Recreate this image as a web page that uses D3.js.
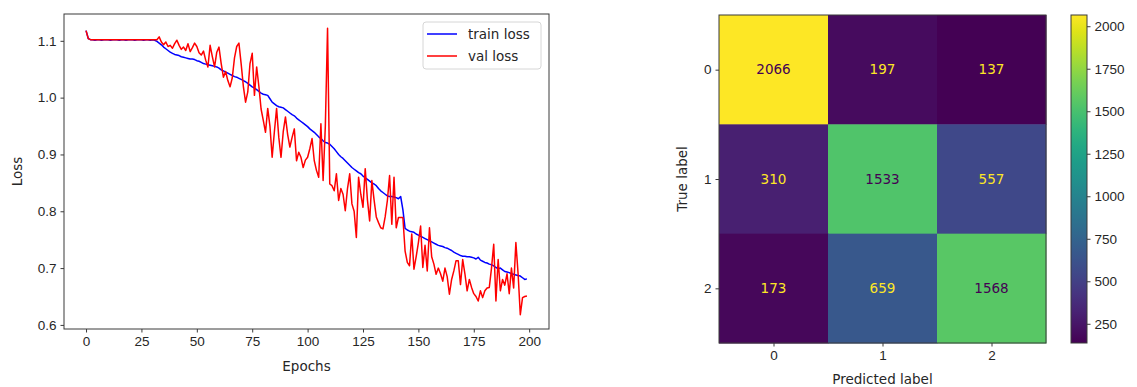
<!DOCTYPE html>
<html>
<head>
<meta charset="utf-8">
<script src="https://cdn.jsdelivr.net/npm/d3@7"></script>
<style>
  body { margin: 0; background: #fff; }
  svg { font-family: "DejaVu Sans", sans-serif; }
  .axis text { font-size: 13.5px; fill: #262626; }
  .axis path, .axis line { stroke: #3a3a3a; }
</style>
</head>
<body>
<div id="chart"></div>
<script>
// loss curves, one value per epoch (0..199)
const trainLoss = [
  1.118, 1.104, 1.102, 1.102, 1.101, 1.102, 1.102, 1.101, 1.102, 1.102,
  1.102, 1.101, 1.102, 1.102, 1.102, 1.101, 1.102, 1.102, 1.101, 1.102,
  1.102, 1.102, 1.101, 1.102, 1.102, 1.102, 1.101, 1.102, 1.102, 1.101,
  1.102, 1.101, 1.099, 1.096, 1.093, 1.089, 1.086, 1.083, 1.080, 1.078,
  1.076, 1.075, 1.074, 1.072, 1.071, 1.070, 1.069, 1.068, 1.068, 1.067,
  1.065, 1.064, 1.062, 1.060, 1.059, 1.058, 1.057, 1.056, 1.055, 1.054,
  1.052, 1.049, 1.047, 1.045, 1.043, 1.041, 1.039, 1.037, 1.036, 1.034,
  1.032, 1.030, 1.028, 1.025, 1.022, 1.019, 1.017, 1.014, 1.011, 1.008,
  1.006, 1.005, 1.004, 0.998, 0.992, 0.989, 0.986, 0.984, 0.983, 0.982,
  0.979, 0.976, 0.973, 0.970, 0.968, 0.964, 0.961, 0.958, 0.955, 0.952,
  0.949, 0.945, 0.942, 0.939, 0.935, 0.931, 0.928, 0.924, 0.921, 0.920,
  0.918, 0.914, 0.910, 0.905, 0.900, 0.896, 0.893, 0.889, 0.885, 0.881,
  0.877, 0.874, 0.871, 0.868, 0.866, 0.862, 0.859, 0.856, 0.853, 0.850,
  0.848, 0.845, 0.840, 0.836, 0.833, 0.830, 0.827, 0.826, 0.826, 0.825,
  0.824, 0.822, 0.826, 0.803, 0.770, 0.767, 0.765, 0.764, 0.763, 0.760,
  0.758, 0.756, 0.754, 0.752, 0.750, 0.748, 0.746, 0.744, 0.742, 0.740,
  0.739, 0.738, 0.736, 0.735, 0.733, 0.731, 0.728, 0.726, 0.724, 0.722,
  0.721, 0.721, 0.720, 0.720, 0.719, 0.718, 0.716, 0.719, 0.714, 0.712,
  0.710, 0.709, 0.707, 0.706, 0.704, 0.701, 0.699, 0.700, 0.697, 0.694,
  0.693, 0.692, 0.690, 0.689, 0.688, 0.687, 0.686, 0.683, 0.680, 0.681
]
const valLoss = [
  1.118, 1.104, 1.102, 1.102, 1.102, 1.102, 1.102, 1.102, 1.102, 1.102,
  1.102, 1.102, 1.102, 1.102, 1.102, 1.102, 1.102, 1.102, 1.102, 1.102,
  1.102, 1.102, 1.102, 1.102, 1.102, 1.102, 1.102, 1.102, 1.102, 1.102,
  1.102, 1.102, 1.102, 1.107, 1.098, 1.093, 1.098, 1.090, 1.092, 1.087,
  1.095, 1.101, 1.092, 1.085, 1.089, 1.083, 1.095, 1.081, 1.088, 1.096,
  1.090, 1.079, 1.075, 1.082, 1.066, 1.054, 1.092, 1.072, 1.054, 1.080,
  1.089, 1.060, 1.036, 1.046, 1.030, 1.019, 1.035, 1.070, 1.090, 1.096,
  1.060, 1.020, 0.992, 1.010, 1.060, 1.078, 1.004, 1.054, 1.020, 0.980,
  0.960, 0.939, 0.981, 0.950, 0.895, 0.940, 0.981, 0.930, 0.895, 0.940,
  0.966, 0.935, 0.913, 0.930, 0.945, 0.889, 0.904, 0.895, 0.877, 0.890,
  0.895, 0.910, 0.928, 0.889, 0.872, 0.860, 0.954, 0.854, 0.950, 1.122,
  0.848, 0.845, 0.836, 0.866, 0.819, 0.840, 0.830, 0.801, 0.840, 0.866,
  0.813, 0.800, 0.754, 0.860, 0.830, 0.807, 0.875, 0.820, 0.783, 0.854,
  0.820, 0.790, 0.780, 0.771, 0.769, 0.790, 0.819, 0.863, 0.777, 0.860,
  0.771, 0.789, 0.789, 0.789, 0.730, 0.710, 0.704, 0.760, 0.698, 0.720,
  0.745, 0.774, 0.701, 0.740, 0.695, 0.771, 0.720, 0.707, 0.689, 0.700,
  0.690, 0.677, 0.700, 0.685, 0.654, 0.680, 0.695, 0.713, 0.713, 0.671,
  0.715, 0.690, 0.660, 0.680, 0.666, 0.655, 0.650, 0.642, 0.660, 0.648,
  0.660, 0.665, 0.666, 0.700, 0.742, 0.642, 0.715, 0.660, 0.680, 0.670,
  0.690, 0.655, 0.700, 0.665, 0.745, 0.690, 0.618, 0.648, 0.650, 0.651
]
const lossTicksX = [0, 25, 50, 75, 100, 125, 150, 175, 200]
const lossTicksY = [0.6, 0.7, 0.8, 0.9, 1.0, 1.1]

// confusion matrix (rows = true label, cols = predicted label)
const classLabels = ['0', '1', '2']
const confusion = [
  [2066, 197, 137],
  [310, 1533, 557],
  [173, 659, 1568]
]
const colorbarTicks = [250, 500, 750, 1000, 1250, 1500, 1750, 2000]

const width = 1137
const height = 387

const svg = d3.select('#chart')
  .append('svg')
  .attr('width', width)
  .attr('height', height)

// ---------- left: loss curves ----------
const lp = { left: 64, right: 549, top: 14, bottom: 329 }

const epochs = d3.range(trainLoss.length)
const xPad = (epochs.length - 1) * 0.05
const xScale = d3.scaleLinear()
  .domain([-xPad, epochs.length - 1 + xPad])
  .range([lp.left, lp.right])

const allLoss = trainLoss.concat(valLoss)
const yMin = d3.min(allLoss)
const yMax = d3.max(allLoss)
const yPad = (yMax - yMin) * 0.05
const yScale = d3.scaleLinear()
  .domain([yMin - yPad, yMax + yPad])
  .range([lp.bottom, lp.top])

const left = svg.append('g')

left.append('g')
  .attr('class', 'axis')
  .attr('transform', `translate(0,${lp.bottom})`)
  .call(d3.axisBottom(xScale).tickValues(lossTicksX).tickSize(3.5).tickPadding(4).tickFormat(d3.format('d')))
  .call(g => g.select('.domain').remove())

left.append('g')
  .attr('class', 'axis')
  .attr('transform', `translate(${lp.left},0)`)
  .call(d3.axisLeft(yScale).tickValues(lossTicksY).tickSize(3.5).tickPadding(4).tickFormat(d3.format('.1f')))
  .call(g => g.select('.domain').remove())

const line = d3.line()
  .x((d, i) => xScale(i))
  .y(d => yScale(d))

left.append('path')
  .datum(trainLoss)
  .attr('d', line)
  .attr('fill', 'none')
  .attr('stroke', '#0000ff')
  .attr('stroke-width', 1.5)
  .attr('stroke-linejoin', 'round')

left.append('path')
  .datum(valLoss)
  .attr('d', line)
  .attr('fill', 'none')
  .attr('stroke', '#ff0000')
  .attr('stroke-width', 1.5)
  .attr('stroke-linejoin', 'round')

left.append('rect')
  .attr('x', lp.left)
  .attr('y', lp.top)
  .attr('width', lp.right - lp.left)
  .attr('height', lp.bottom - lp.top)
  .attr('fill', 'none')
  .attr('stroke', '#3a3a3a')
  .attr('stroke-width', 1)

left.append('text')
  .attr('x', (lp.left + lp.right) / 2)
  .attr('y', 371)
  .attr('text-anchor', 'middle')
  .attr('font-size', 13.5)
  .attr('fill', '#262626')
  .text('Epochs')

left.append('text')
  .attr('transform', `translate(22,${(lp.top + lp.bottom) / 2}) rotate(-90)`)
  .attr('text-anchor', 'middle')
  .attr('font-size', 13.5)
  .attr('fill', '#262626')
  .text('Loss')

// legend
const legend = left.append('g').attr('transform', 'translate(423,22)')
legend.append('rect')
  .attr('width', 118)
  .attr('height', 47)
  .attr('rx', 3)
  .attr('fill', '#fff')
  .attr('fill-opacity', 0.8)
  .attr('stroke', '#d6d6d6')

const legendItems = [
  { name: 'train loss', color: '#0000ff' },
  { name: 'val loss', color: '#ff0000' }
]
legendItems.forEach((d, i) => {
  const gy = 12 + i * 22
  legend.append('line')
    .attr('x1', 4).attr('x2', 34)
    .attr('y1', gy).attr('y2', gy)
    .attr('stroke', d.color)
    .attr('stroke-width', 1.5)
  legend.append('text')
    .attr('x', 45)
    .attr('y', gy)
    .attr('dy', '0.35em')
    .attr('font-size', 13.5)
    .attr('fill', '#262626')
    .text(d.name)
})

// ---------- right: confusion matrix ----------
const mp = { left: 719, right: 1046, top: 15, bottom: 343 }

const colX = d3.scaleBand().domain(classLabels).range([mp.left, mp.right])
const rowY = d3.scaleBand().domain(classLabels).range([mp.top, mp.bottom])

const flat = confusion.flat()
const vMin = d3.min(flat)
const vMax = d3.max(flat)
const colorScale = d3.scaleSequential(d3.interpolateViridis).domain([vMin, vMax])
const threshold = (vMin + vMax) / 2

const cells = []
confusion.forEach((row, r) => {
  row.forEach((v, c) => cells.push({ row: classLabels[r], col: classLabels[c], value: v }))
})

const right = svg.append('g')

right.selectAll('.cell')
  .data(cells)
  .enter()
  .append('rect')
  .attr('class', 'cell')
  .attr('x', d => colX(d.col))
  .attr('y', d => rowY(d.row))
  .attr('width', colX.bandwidth() + 0.5)
  .attr('height', rowY.bandwidth() + 0.5)
  .attr('fill', d => colorScale(d.value))

right.selectAll('.cell-label')
  .data(cells)
  .enter()
  .append('text')
  .attr('class', 'cell-label')
  .attr('x', d => colX(d.col) + colX.bandwidth() / 2)
  .attr('y', d => rowY(d.row) + rowY.bandwidth() / 2)
  .attr('dy', '0.35em')
  .attr('text-anchor', 'middle')
  .attr('font-size', 13.5)
  .attr('fill', d => d.value < threshold ? d3.interpolateViridis(1) : d3.interpolateViridis(0))
  .text(d => d.value)

right.append('rect')
  .attr('x', mp.left)
  .attr('y', mp.top)
  .attr('width', mp.right - mp.left)
  .attr('height', mp.bottom - mp.top)
  .attr('fill', 'none')
  .attr('stroke', '#3a3a3a')
  .attr('stroke-width', 1)

const bandCenterX = d3.scalePoint().domain(classLabels).range([colX('0') + colX.bandwidth() / 2, colX('2') + colX.bandwidth() / 2])
const bandCenterY = d3.scalePoint().domain(classLabels).range([rowY('0') + rowY.bandwidth() / 2, rowY('2') + rowY.bandwidth() / 2])

right.append('g')
  .attr('class', 'axis')
  .attr('transform', `translate(0,${mp.bottom})`)
  .call(d3.axisBottom(bandCenterX).tickSize(3.5).tickPadding(4))
  .call(g => g.select('.domain').remove())

right.append('g')
  .attr('class', 'axis')
  .attr('transform', `translate(${mp.left},0)`)
  .call(d3.axisLeft(bandCenterY).tickSize(3.5).tickPadding(4))
  .call(g => g.select('.domain').remove())

right.append('text')
  .attr('x', (mp.left + mp.right) / 2)
  .attr('y', 384)
  .attr('text-anchor', 'middle')
  .attr('font-size', 13.5)
  .attr('fill', '#262626')
  .text('Predicted label')

right.append('text')
  .attr('transform', `translate(687,${(mp.top + mp.bottom) / 2}) rotate(-90)`)
  .attr('text-anchor', 'middle')
  .attr('font-size', 13.5)
  .attr('fill', '#262626')
  .text('True label')

// colorbar
const cb = { left: 1071, right: 1087, top: 15, bottom: 343 }
const cbScale = d3.scaleLinear().domain([vMin, vMax]).range([cb.bottom, cb.top])

const grad = svg.append('defs').append('linearGradient')
  .attr('id', 'viridis-grad')
  .attr('x1', 0).attr('y1', 1).attr('x2', 0).attr('y2', 0)
d3.range(0, 1.0001, 0.05).forEach(t => {
  grad.append('stop')
    .attr('offset', t)
    .attr('stop-color', d3.interpolateViridis(t))
})

right.append('rect')
  .attr('x', cb.left)
  .attr('y', cb.top)
  .attr('width', cb.right - cb.left)
  .attr('height', cb.bottom - cb.top)
  .attr('fill', 'url(#viridis-grad)')
  .attr('stroke', '#3a3a3a')
  .attr('stroke-width', 1)

right.append('g')
  .attr('class', 'axis')
  .attr('transform', `translate(${cb.right},0)`)
  .call(d3.axisRight(cbScale).tickValues(colorbarTicks).tickSize(3.5).tickPadding(4).tickFormat(d3.format('d')))
  .call(g => g.select('.domain').remove())
</script>
</body>
</html>
